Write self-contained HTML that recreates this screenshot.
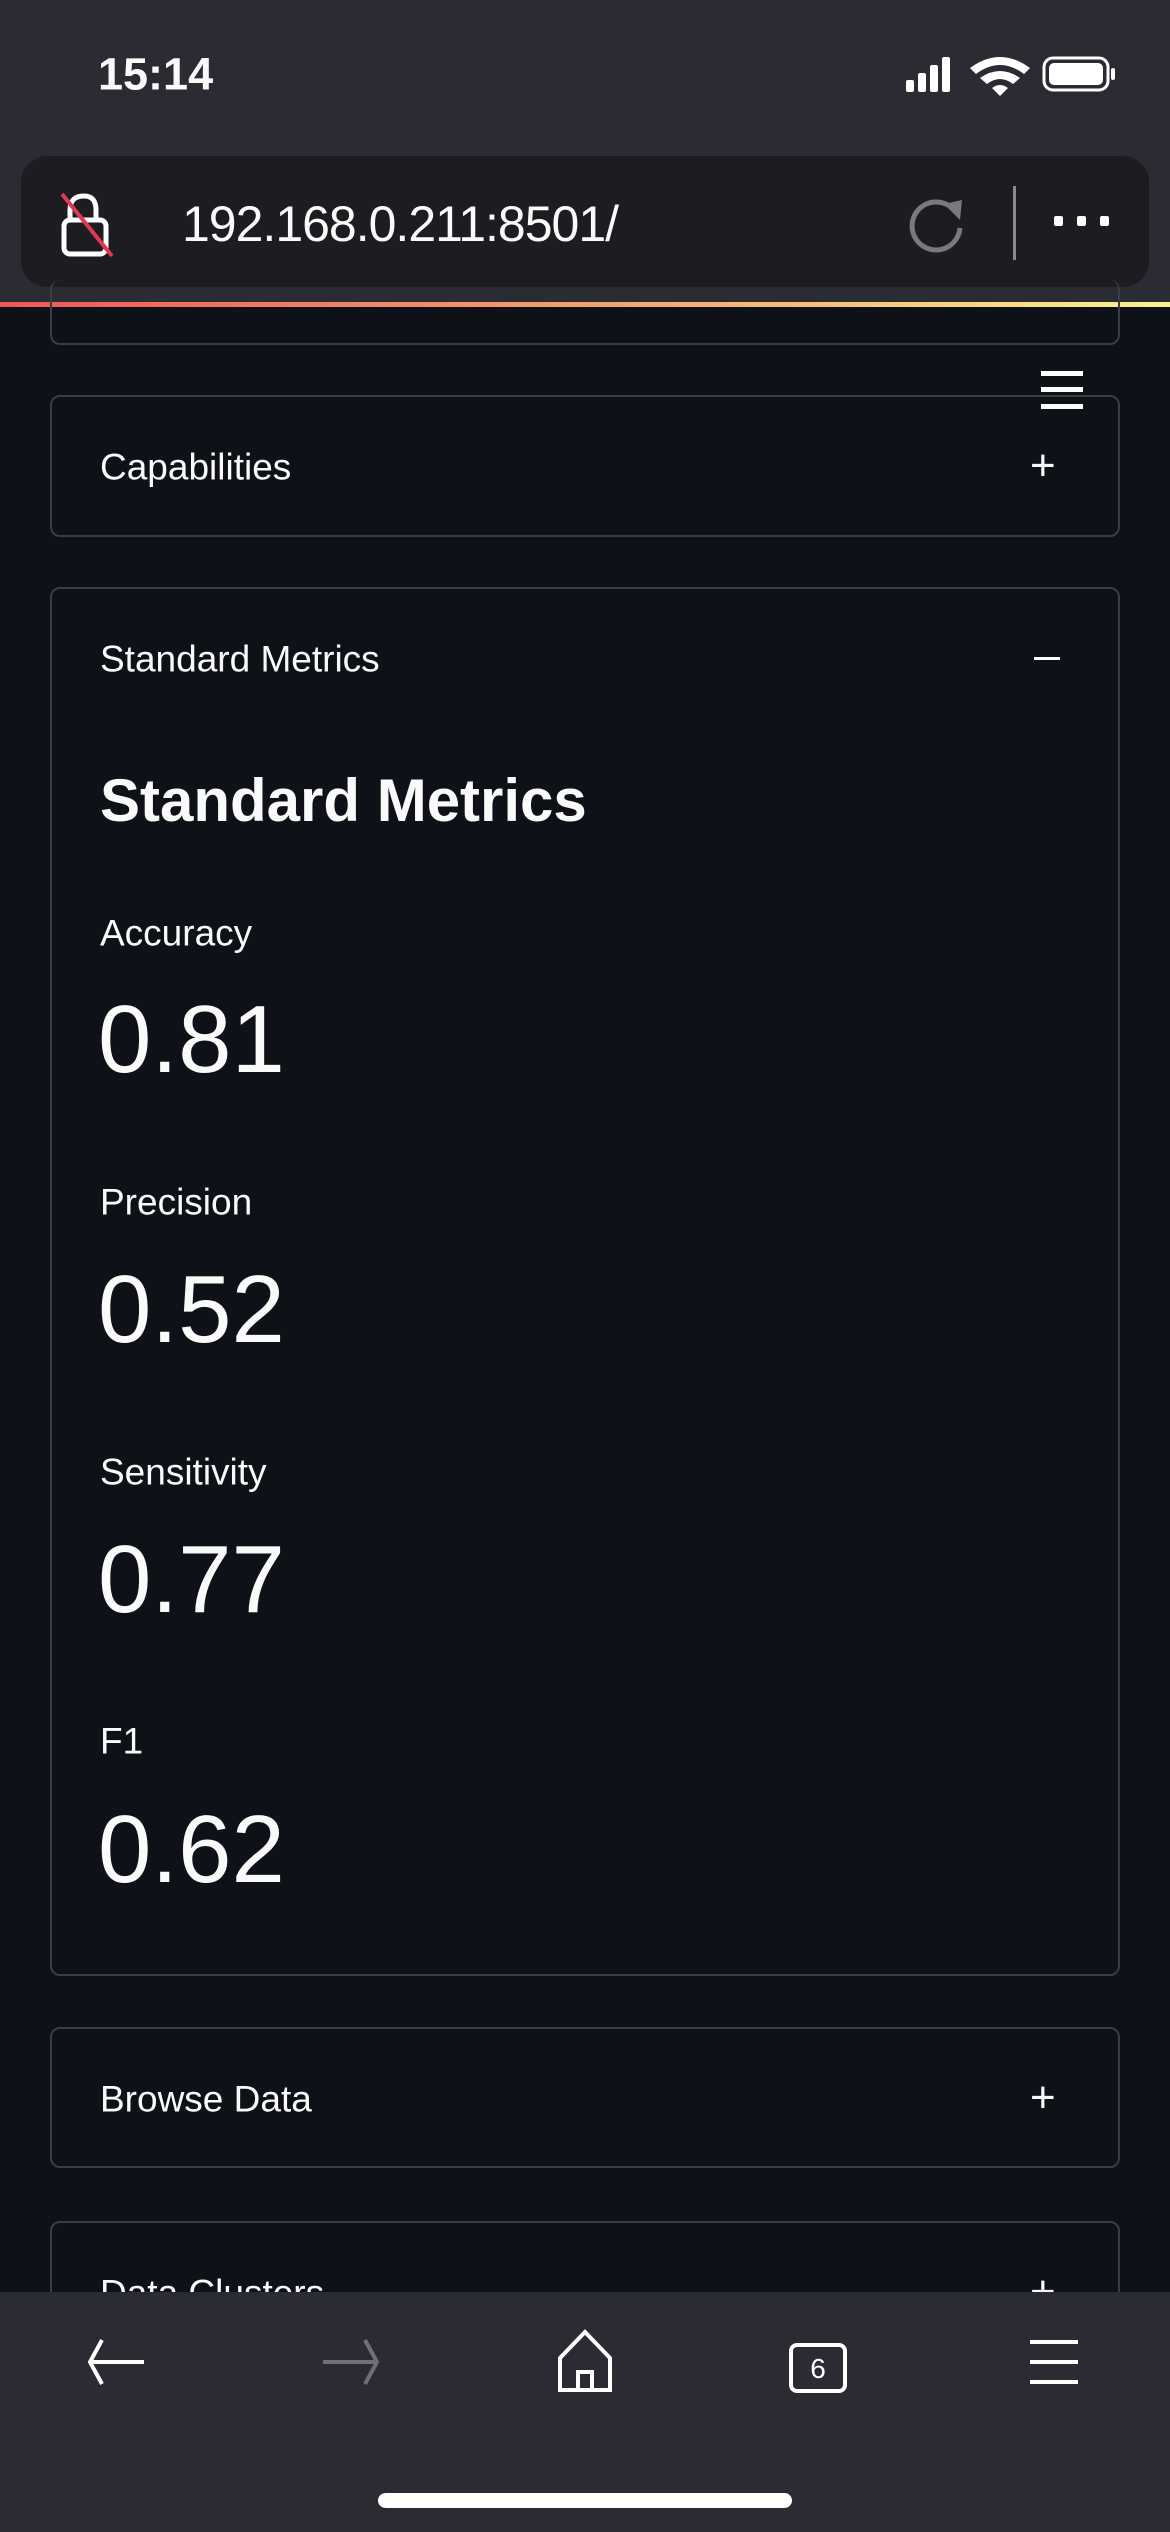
<!DOCTYPE html>
<html><head><meta charset="utf-8"><style>
*{margin:0;padding:0;box-sizing:border-box}
body{width:1170px;height:2532px;background:#0e1117;position:relative;overflow:hidden;font-family:"Liberation Sans",sans-serif;color:#fafafa}
.abs{position:absolute}
.t{position:absolute;white-space:nowrap;line-height:1;transform:translateY(-50%)}
.card{position:absolute;left:50px;width:1070px;border:2px solid #3b3d45;border-radius:10px}
</style></head><body>
<div class="abs" style="left:0;top:0;width:1170px;height:302px;background:#2a2b33"></div>
<div class="t" style="left:98px;top:74px;font-size:45px;font-weight:bold">15:14</div>
<svg class="abs" style="left:900px;top:52px" width="220" height="44">
<rect x="6" y="28" width="8" height="12" rx="2" fill="#fff"/><rect x="18" y="21" width="8" height="19" rx="2" fill="#fff"/><rect x="30" y="13" width="8" height="27" rx="2" fill="#fff"/><rect x="42" y="5" width="8" height="35" rx="2" fill="#fff"/>
<path d="M70 16 Q100 -6 130 16 L124 22 Q100 4 76 22Z M80 26 Q100 12 120 26 L113 32 Q100 22 87 32Z M92 36 L100 44 L108 36 Q100 30 92 36Z" fill="#fff"/>
<rect x="144" y="6" width="64" height="32" rx="9" fill="none" stroke="#fff" stroke-width="3"/><rect x="149" y="11" width="54" height="22" rx="5" fill="#fff"/><rect x="211" y="16" width="4" height="12" rx="2" fill="#fff"/>
</svg>
<div class="abs" style="left:21px;top:156px;width:1128px;height:131px;background:#1c1c21;border-radius:26px"></div>
<svg class="abs" style="left:56px;top:190px" width="70" height="70">
<path d="M14 30 V20 Q14 6 28 6 Q40 6 40 20 V30" fill="none" stroke="#fff" stroke-width="5"/><rect x="8" y="30" width="42" height="34" rx="6" fill="none" stroke="#fff" stroke-width="5"/><line x1="6" y1="4" x2="56" y2="66" stroke="#e0394f" stroke-width="4"/>
</svg>
<div class="t" style="left:182px;top:224px;font-size:50px;letter-spacing:-1px">192.168.0.211:8501/</div>
<svg class="abs" style="left:906px;top:192px" width="64" height="64"><path d="M48 18 A24 24 0 1 0 54 36" fill="none" stroke="#7a7a7e" stroke-width="5"/><path d="M38 12 L56 8 L54 28Z" fill="#7a7a7e"/></svg>
<div class="abs" style="left:1013px;top:186px;width:3px;height:74px;background:#8a8a8e"></div>
<svg class="abs" style="left:1050px;top:210px" width="70" height="24"><rect x="4" y="6" width="9" height="10" rx="2" fill="#fff"/><rect x="27" y="6" width="9" height="10" rx="2" fill="#fff"/><rect x="50" y="6" width="9" height="10" rx="2" fill="#fff"/></svg>
<div class="abs" style="left:0;top:302px;width:1170px;height:5px;background:linear-gradient(90deg,#ec5858,#f2a070 50%,#fbf28a)"></div>
<div class="card" style="top:280px;height:65px;border-top:none"></div>
<div class="abs" style="left:1041px;top:371px;width:42px;height:38px;border-top:5px solid #fff;border-bottom:5px solid #fff"><div style="margin-top:11px;height:5px;background:#fff"></div></div>
<div class="card" style="top:395px;height:142px"></div>
<div class="t" style="left:100px;top:467px;font-size:37px">Capabilities</div>
<div class="t" style="left:1030px;top:466px;font-size:44px">+</div>
<div class="card" style="top:587px;height:1389px"></div>
<div class="t" style="left:100px;top:659px;font-size:37px">Standard Metrics</div>
<div class="abs" style="left:1034px;top:657px;width:26px;height:3px;background:#fff"></div>
<div class="t" style="left:100px;top:801px;font-size:60px;font-weight:bold">Standard Metrics</div>
<div class="t" style="left:100px;top:933px;font-size:37px">Accuracy</div>
<div class="t" style="left:98px;top:1040px;font-size:96px">0.81</div>
<div class="t" style="left:100px;top:1202px;font-size:37px">Precision</div>
<div class="t" style="left:98px;top:1310px;font-size:96px">0.52</div>
<div class="t" style="left:100px;top:1472px;font-size:37px">Sensitivity</div>
<div class="t" style="left:98px;top:1580px;font-size:96px">0.77</div>
<div class="t" style="left:100px;top:1741px;font-size:37px">F1</div>
<div class="t" style="left:98px;top:1850px;font-size:96px">0.62</div>
<div class="card" style="top:2027px;height:141px"></div>
<div class="t" style="left:100px;top:2099px;font-size:37px">Browse Data</div>
<div class="t" style="left:1030px;top:2098px;font-size:44px">+</div>
<div class="card" style="top:2221px;height:160px"></div>
<div class="t" style="left:100px;top:2293px;font-size:37px">Data Clusters</div>
<div class="t" style="left:1030px;top:2292px;font-size:44px">+</div>
<div class="abs" style="left:0;top:2292px;width:1170px;height:240px;background:#2a2b33"></div>
<svg class="abs" style="left:0;top:2320px" width="1170" height="90">
<g fill="none" stroke="#fff" stroke-width="4"><path d="M102 20 L90 42 L102 64 M90 42 H144"/></g>
<g fill="none" stroke="#6f7075" stroke-width="4"><path d="M365 20 L377 42 L365 64 M323 42 H377"/></g>
<g fill="none" stroke="#fff" stroke-width="4"><path d="M560 70 V38 L585 12 L610 38 V70 Z M578 70 V52 H592 V70"/></g>
<g><rect x="791" y="25" width="54" height="46" rx="6" fill="none" stroke="#fff" stroke-width="4"/><text x="818" y="58" font-size="28" fill="#fff" text-anchor="middle" font-family="Liberation Sans, sans-serif">6</text></g>
<g fill="#fff"><rect x="1030" y="20" width="48" height="4"/><rect x="1030" y="40" width="48" height="4"/><rect x="1030" y="60" width="48" height="4"/></g>
</svg>
<div class="abs" style="left:378px;top:2493px;width:414px;height:15px;border-radius:8px;background:#fff"></div>
</body></html>
